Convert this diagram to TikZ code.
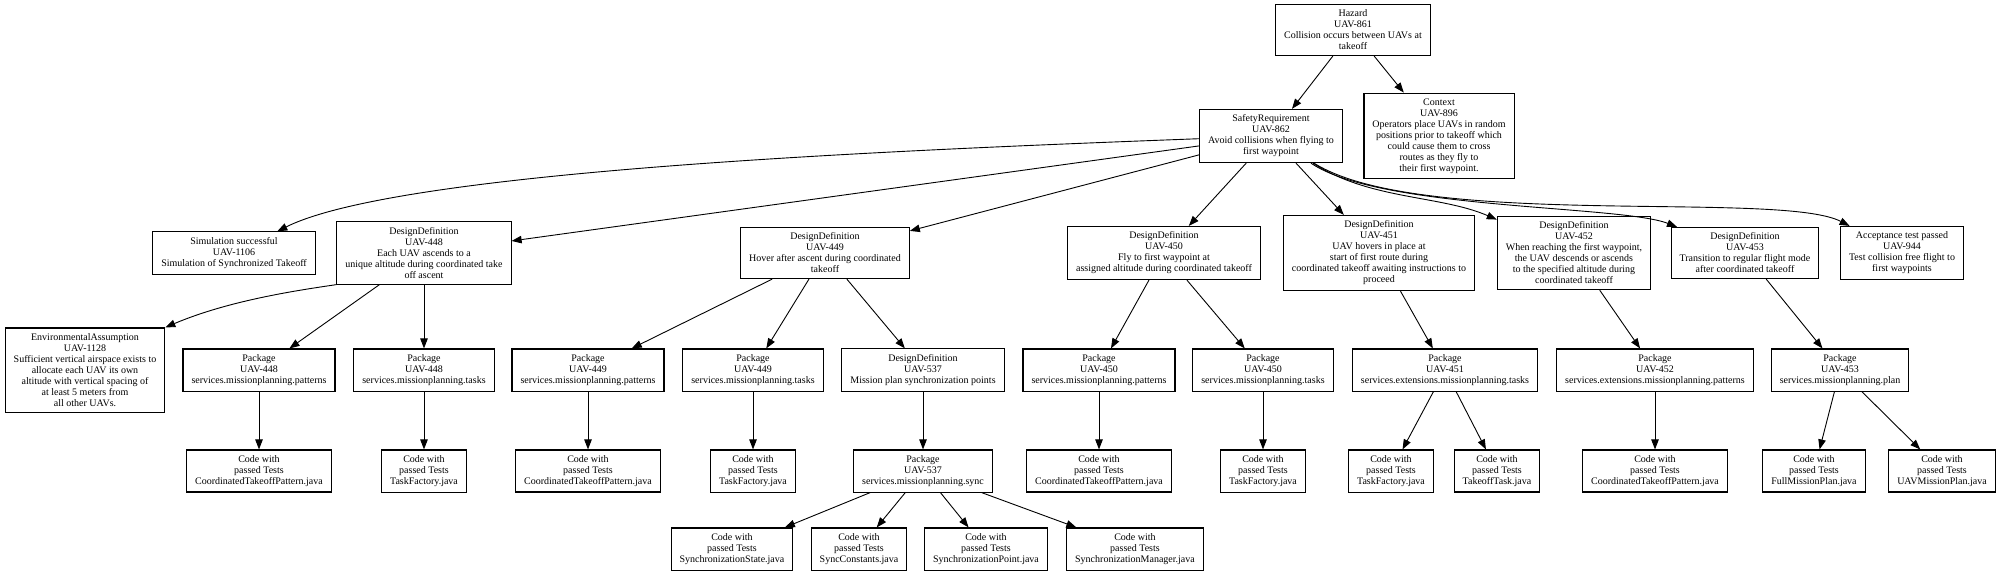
\documentclass[tikz,border=0pt]{standalone}
\usepackage{fontspec}
\setmainfont{Liberation Serif}
\usetikzlibrary{arrows.meta}

\begin{document}
\begin{tikzpicture}[
    x=1pt, y=-1pt,
    item/.style={draw, line width=1.1pt, align=center, inner xsep=8.5pt, inner ysep=5.5pt, font=\fontsize{10}{11}\selectfont},
    link/.style={-{Triangle[length=10pt, width=7.5pt]}, line width=0.9pt},
]
    \useasboundingbox (0,0) rectangle (2000,574);

    \node[item] (hazard) at (1353,30) {Hazard\\UAV-861\\Collision occurs between UAVs at\\takeoff};
    \node[item] (safety) at (1271,136) {SafetyRequirement\\UAV-862\\Avoid collisions when flying to\\first waypoint};
    \node[item] (context) at (1439,136) {Context\\UAV-896\\Operators place UAVs in random\\positions prior to takeoff which\\could cause them to cross\\routes as they fly to\\their first waypoint.};

    \node[item] (sim) at (234,253) {Simulation successful\\UAV-1106\\Simulation of Synchronized Takeoff};
    \node[item] (def448) at (424,253) {DesignDefinition\\UAV-448\\Each UAV ascends to a\\unique altitude during coordinated take\\off ascent};
    \node[item] (def449) at (825,253) {DesignDefinition\\UAV-449\\Hover after ascent during coordinated\\takeoff};
    \node[item] (def450) at (1164,253) {DesignDefinition\\UAV-450\\Fly to first waypoint at\\assigned altitude during coordinated takeoff};
    \node[item] (def451) at (1379,253) {DesignDefinition\\UAV-451\\UAV hovers in place at\\start of first route during\\coordinated takeoff awaiting instructions to\\proceed};
    \node[item] (def452) at (1574,253) {DesignDefinition\\UAV-452\\When reaching the first waypoint,\\the UAV descends or ascends\\to the specified altitude during\\coordinated takeoff};
    \node[item] (def453) at (1745,253) {DesignDefinition\\UAV-453\\Transition to regular flight mode\\after coordinated takeoff};
    \node[item] (accept) at (1902,253) {Acceptance test passed\\UAV-944\\Test collision free flight to\\first waypoints};

    \node[item] (env) at (85,370) {EnvironmentalAssumption\\UAV-1128\\Sufficient vertical airspace exists to\\allocate each UAV its own\\altitude with vertical spacing of\\at least 5 meters from\\all other UAVs.};
    \node[item] (pkg448pat) at (259,370) {Package\\UAV-448\\services.missionplanning.patterns};
    \node[item] (pkg448task) at (424,370) {Package\\UAV-448\\services.missionplanning.tasks};
    \node[item] (pkg449pat) at (588,370) {Package\\UAV-449\\services.missionplanning.patterns};
    \node[item] (pkg449task) at (753,370) {Package\\UAV-449\\services.missionplanning.tasks};
    \node[item] (def537) at (923,370) {DesignDefinition\\UAV-537\\Mission plan synchronization points};
    \node[item] (pkg450pat) at (1099,370) {Package\\UAV-450\\services.missionplanning.patterns};
    \node[item] (pkg450task) at (1263,370) {Package\\UAV-450\\services.missionplanning.tasks};
    \node[item] (pkg451) at (1445,370) {Package\\UAV-451\\services.extensions.missionplanning.tasks};
    \node[item] (pkg452) at (1655,370) {Package\\UAV-452\\services.extensions.missionplanning.patterns};
    \node[item] (pkg453) at (1840,370) {Package\\UAV-453\\services.missionplanning.plan};

    \node[item] (code448pat) at (259,471) {Code with\\passed Tests\\CoordinatedTakeoffPattern.java};
    \node[item] (code448task) at (424,471) {Code with\\passed Tests\\TaskFactory.java};
    \node[item] (code449pat) at (588,471) {Code with\\passed Tests\\CoordinatedTakeoffPattern.java};
    \node[item] (code449task) at (753,471) {Code with\\passed Tests\\TaskFactory.java};
    \node[item] (pkg537) at (923,471) {Package\\UAV-537\\services.missionplanning.sync};
    \node[item] (code450pat) at (1099,471) {Code with\\passed Tests\\CoordinatedTakeoffPattern.java};
    \node[item] (code450task) at (1263,471) {Code with\\passed Tests\\TaskFactory.java};
    \node[item] (code451factory) at (1391,471) {Code with\\passed Tests\\TaskFactory.java};
    \node[item] (code451takeoff) at (1497,471) {Code with\\passed Tests\\TakeoffTask.java};
    \node[item] (code452) at (1655,471) {Code with\\passed Tests\\CoordinatedTakeoffPattern.java};
    \node[item] (code453full) at (1814,471) {Code with\\passed Tests\\FullMissionPlan.java};
    \node[item] (code453uav) at (1942,471) {Code with\\passed Tests\\UAVMissionPlan.java};

    \node[item] (syncstate) at (732,549) {Code with\\passed Tests\\SynchronizationState.java};
    \node[item] (syncconst) at (859,549) {Code with\\passed Tests\\SyncConstants.java};
    \node[item] (syncpoint) at (986,549) {Code with\\passed Tests\\SynchronizationPoint.java};
    \node[item] (syncmanager) at (1135,549) {Code with\\passed Tests\\SynchronizationManager.java};

    \draw[link] (hazard) -- (safety);
    \draw[link] (hazard) -- (context);

    \draw[link] (safety) .. controls (900,150) and (400,170) .. (sim);
    \draw[link] (safety) -- (def448);
    \draw[link] (safety) -- (def449);
    \draw[link] (safety) -- (def450);
    \draw[link] (safety) -- (def451);
    \draw[link] (safety) .. controls (1370,200) and (1440,195) .. (def452);
    \draw[link] (safety) .. controls (1380,210) and (1620,205) .. (def453);
    \draw[link] (safety) .. controls (1420,230) and (1780,190) .. (accept);

    \draw[link] (def448.south west) .. controls (300,290) and (230,300) .. (env.north east);
    \draw[link] (def448) -- (pkg448pat);
    \draw[link] (def448) -- (pkg448task);
    \draw[link] (def449) -- (pkg449pat);
    \draw[link] (def449) -- (pkg449task);
    \draw[link] (def449) -- (def537);
    \draw[link] (def450) -- (pkg450pat);
    \draw[link] (def450) -- (pkg450task);
    \draw[link] (def451) -- (pkg451);
    \draw[link] (def452) -- (pkg452);
    \draw[link] (def453) -- (pkg453);

    \draw[link] (pkg448pat) -- (code448pat);
    \draw[link] (pkg448task) -- (code448task);
    \draw[link] (pkg449pat) -- (code449pat);
    \draw[link] (pkg449task) -- (code449task);
    \draw[link] (def537) -- (pkg537);
    \draw[link] (pkg450pat) -- (code450pat);
    \draw[link] (pkg450task) -- (code450task);
    \draw[link] (pkg451) -- (code451factory);
    \draw[link] (pkg451) -- (code451takeoff);
    \draw[link] (pkg452) -- (code452);
    \draw[link] (pkg453) -- (code453full);
    \draw[link] (pkg453) -- (code453uav);

    \draw[link] (pkg537) -- (syncstate);
    \draw[link] (pkg537) -- (syncconst);
    \draw[link] (pkg537) -- (syncpoint);
    \draw[link] (pkg537) -- (syncmanager);
\end{tikzpicture}
\end{document}
